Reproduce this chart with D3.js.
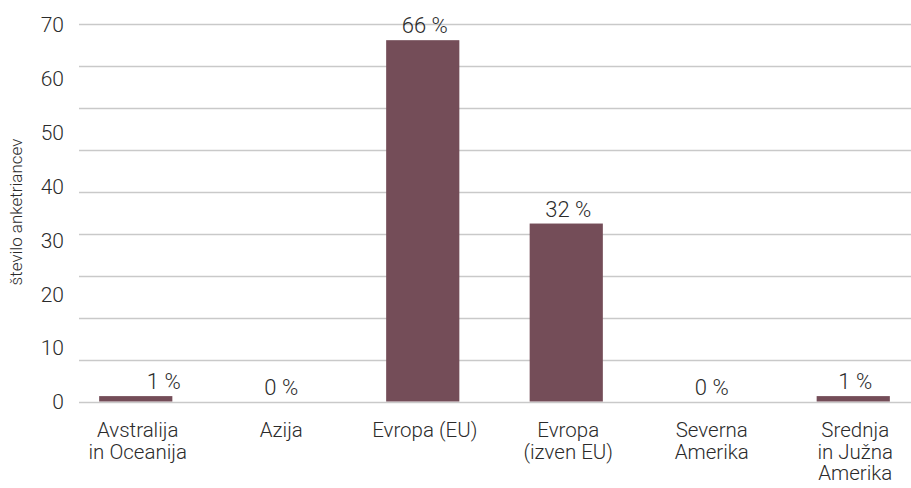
<!DOCTYPE html>
<html>
<head>
<meta charset="utf-8">
<script src="https://cdn.jsdelivr.net/npm/d3@7"></script>
<style>
  body { margin: 0; background: #fff; }
  text { font-family: Roboto, "Noto Sans", sans-serif; font-weight: 300; fill: #2b2b2b; }
</style>
</head>
<body>
<script>
var categories = [
    ["Avstralija", "in Oceanija"],
    ["Azija"],
    ["Evropa (EU)"],
    ["Evropa", "(izven EU)"],
    ["Severna", "Amerika"],
    ["Srednja", "in Južna", "Amerika"]
];
var counts = [1, 0, 67, 33, 0, 1];
var shares = ["1 %", "0 %", "66 %", "32 %", "0 %", "1 %"];
var yTicks = [0, 10, 20, 30, 40, 50, 60, 70];
var yTitle = "število anketriancev";

(function () {
    var width = 911,
        height = 488;

    var svg = d3.select("body").append("svg")
        .attr("width", width)
        .attr("height", height);

    var x = d3.scaleBand()
        .domain(d3.range(categories.length))
        .range([64, 925])
        .paddingInner(0.49)
        .paddingOuter(0.245);

    var y = d3.scaleLinear()
        .domain([0, 70])
        .range([401.5, 24]);

    // gridlines: excel drew 9 divisions, not one per label
    var grid = d3.range(10).map(function (i) { return i * 70 / 9; });
    svg.append("g").selectAll("line")
        .data(grid)
        .enter().append("line")
        .attr("x1", 79)
        .attr("x2", width)
        .attr("y1", function (d) { return Math.round(y(d)) + 0.5; })
        .attr("y2", function (d) { return Math.round(y(d)) + 0.5; })
        .style("stroke", "#c9c9c9")
        .style("stroke-width", 1.3);

    var yAxis = svg.append("g")
        .attr("transform", "translate(64,0)")
        .call(d3.axisLeft(y).tickValues(yTicks).tickSize(0).tickPadding(0));
    yAxis.select(".domain").remove();
    yAxis.selectAll("text")
        .attr("dy", "0.35em")
        .style("font-size", "21px")
        .style("font-family", null);

    svg.append("text")
        .attr("transform", "translate(22,212) rotate(-90)")
        .attr("text-anchor", "middle")
        .style("font-size", "17px")
        .text(yTitle);

    svg.append("g").selectAll("rect")
        .data(counts)
        .enter().append("rect")
        .attr("x", function (d, i) { return x(i); })
        .attr("y", function (d) { return y(d); })
        .attr("width", x.bandwidth())
        .attr("height", function (d) { return y(0) - y(d); })
        .style("fill", "#744d58");

    svg.append("g").selectAll("text")
        .data(counts)
        .enter().append("text")
        .attr("x", function (d, i) { return x(i) + x.bandwidth() / 2 + (i === 0 ? 28 : 2); })
        .attr("y", function (d) { return y(d) - 7; })
        .attr("text-anchor", "middle")
        .style("font-size", "22px")
        .text(function (d, i) { return shares[i]; });

    var cat = svg.append("g").selectAll("text")
        .data(categories)
        .enter().append("text")
        .attr("x", function (d, i) { return x(i) + x.bandwidth() / 2 + 2; })
        .attr("y", 437)
        .attr("text-anchor", "middle")
        .style("font-size", "20.5px");

    cat.selectAll("tspan")
        .data(function (d) { return d; })
        .enter().append("tspan")
        .attr("x", function () { return d3.select(this.parentNode).attr("x"); })
        .attr("dy", function (d, j) { return j === 0 ? 0 : 21.5; })
        .text(function (d) { return d; });
}());
</script>
</body>
</html>
